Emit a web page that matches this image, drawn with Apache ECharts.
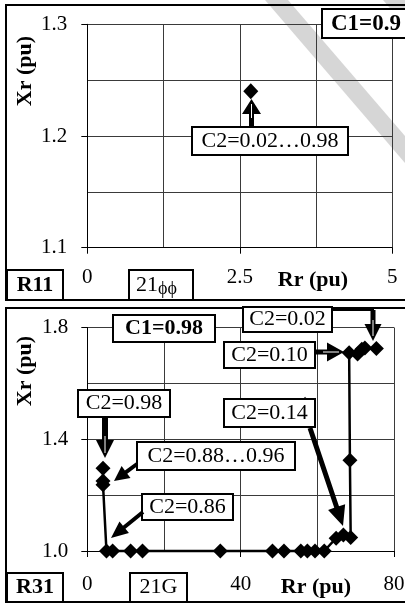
<!DOCTYPE html>
<html>
<head>
<meta charset="utf-8">
<title>R11 / R31 : Rr - Xr</title>
<script src="https://cdn.jsdelivr.net/npm/echarts@6/dist/echarts.min.js"></script>
<style>
  html, body { margin: 0; padding: 0; background: #fff; }
  #chart { width: 405px; height: 603px; }
</style>
</head>
<body>
<div id="chart"></div>
<script>
// R11 (21ϕϕ), C1=0.9 : every C2 = 0.02 ... 0.98 lands on the same point
const rr11 = [2.68]
const xr11 = [1.24]

// R31 (21G), C1=0.98 : path for C2 = 0.02 -> 0.98
const rr31 = [75.4, 72.4, 71.6, 70.5, 68.3, 68.5, 68.7, 66.8, 64.9,
  61.8, 59.4, 57.4, 55.7, 51.3, 48.3, 34.7, 14.4, 11.3, 6.6, 5.0,
  4.1, 4.1, 4.1]
const xr31 = [1.725, 1.727, 1.722, 1.705, 1.71, 1.325, 1.048, 1.057, 1.046,
  1.0, 1.0, 1.0, 1.0, 1.0, 1.0, 1.0, 1.0, 1.0, 1.0, 1.0,
  1.237, 1.251, 1.296]

// a point almost hidden under the C2=0.14 label
const rr31Hidden = [56.8]
const xr31Hidden = [1.525]

// tick labels
const rrTicks11 = [0, 2.5, 5]
const xrTicks11 = [1.1, 1.2, 1.3]
const rrTicks31 = [0, 40, 80]
const xrTicks31 = [1.0, 1.4, 1.8]

const FONT = '"Liberation Serif", "Times New Roman", serif'
const GRID_COLOR = '#3a3a3a'

const chart = echarts.init(document.getElementById('chart'))

const pairs = (xs, ys) => xs.map((v, i) => [v, ys[i]])

// white box with a black frame and a centred label
function box(x1, y1, x2, y2, text, bold) {
  return [
    {
      type: 'rect', z: 100,
      shape: { x: x1, y: y1, width: x2 - x1, height: y2 - y1 },
      style: { fill: '#fff', stroke: '#000', lineWidth: 2 }
    },
    {
      type: 'text', z: 101, x: (x1 + x2) / 2, y: (y1 + y2) / 2,
      style: {
        text: text, fill: '#000', align: 'center', verticalAlign: 'middle',
        font: (bold ? 'bold ' : '') + '22px ' + FONT
      }
    }
  ]
}

// block arrow from (x1,y1) to tip (x2,y2)
function arrow(x1, y1, x2, y2, w, hw, hl, streak) {
  const len = Math.hypot(x2 - x1, y2 - y1)
  const ux = (x2 - x1) / len, uy = (y2 - y1) / len
  const px = -uy, py = ux
  const bx = x2 - ux * hl, by = y2 - uy * hl
  const els = [{
    type: 'polygon', z: 102,
    shape: {
      points: [
        [x1 + px * w / 2, y1 + py * w / 2],
        [bx + px * w / 2, by + py * w / 2],
        [bx + px * hw / 2, by + py * hw / 2],
        [x2, y2],
        [bx - px * hw / 2, by - py * hw / 2],
        [bx - px * w / 2, by - py * w / 2],
        [x1 - px * w / 2, y1 - py * w / 2]
      ]
    },
    style: { fill: '#000' }
  }]
  if (streak) {
    // thin white line inside the head, as in the original drawing
    els.push({
      type: 'line', z: 103,
      shape: { x1: bx - ux * 4, y1: by - uy * 4, x2: x2 - ux * 5, y2: y2 - uy * 5 },
      style: { stroke: '#fff', lineWidth: 1 }
    })
  }
  return els
}

function label(x, y, text, font, align, rotation) {
  return {
    type: 'text', z: 101, x: x, y: y, rotation: rotation || 0,
    style: { text: text, fill: '#000', align: align || 'center', verticalAlign: 'middle', font: font }
  }
}

const graphics = [
  // grey band across the top right corner of the page
  { type: 'polygon', z: -1, shape: { points: [[265, 0], [288, 0], [405, 136], [405, 163]] }, style: { fill: '#d6d6d6' } },
  { type: 'polygon', z: -1, shape: { points: [[383, 0], [405, 0], [405, 26]] }, style: { fill: '#d6d6d6' } },

  // panel frames
  { type: 'rect', z: 99, shape: { x: 6, y: 5, width: 420, height: 295 }, style: { fill: 'transparent', stroke: '#000', lineWidth: 2 } },
  { type: 'rect', z: 99, shape: { x: 6, y: 308, width: 420, height: 294 }, style: { fill: 'transparent', stroke: '#000', lineWidth: 2 } },

  // axis titles
  label(25, 71, 'Xr (pu)', 'bold 22px ' + FONT, 'center', Math.PI / 2),
  label(313, 280, 'Rr (pu)', 'bold 22px ' + FONT),
  label(25, 371, 'Xr (pu)', 'bold 22px ' + FONT, 'center', Math.PI / 2),
  label(316, 587, 'Rr (pu)', 'bold 22px ' + FONT),

  // top panel labels
  ...box(322, 9, 430, 38, '', true),
  label(331, 24, 'C1=0.9', 'bold 23px ' + FONT, 'left'),
  ...box(192, 127, 348, 155, 'C2=0.02…0.98', false),
  ...arrow(251.5, 127, 251.5, 99, 5, 19, 15, true),
  ...box(7, 270, 63, 300, 'R11', true),
  ...box(129, 270, 193, 300, '', false),
  label(136, 285, '21', '22px ' + FONT, 'left'),
  label(158, 289, 'ϕϕ', '18px ' + FONT, 'left'),

  // bottom panel labels
  ...box(113, 315, 215, 342, 'C1=0.98', true),
  { type: 'polyline', z: 102, shape: { points: [[332, 310], [373, 310], [373, 324]] }, style: { stroke: '#000', lineWidth: 2, fill: null } },
  ...box(243, 307, 332, 332, 'C2=0.02', false),
  ...arrow(373, 310, 373, 341, 5, 17, 17, true),
  ...box(224, 342, 315, 368, 'C2=0.10', false),
  ...arrow(315, 352, 344, 352, 5, 19, 17, true),
  ...box(78, 390, 170, 417, 'C2=0.98', false),
  ...arrow(105, 417, 105, 458, 6, 18, 18, true),
  ...box(224, 399, 315, 427, 'C2=0.14', false),
  ...arrow(310, 428, 343, 526, 5, 18, 20, false),
  ...box(137, 442, 295, 470, 'C2=0.88…0.96', false),
  ...arrow(137, 464, 114, 481, 4, 15, 15, false),
  ...box(142, 494, 233, 520, 'C2=0.86', false),
  ...arrow(143, 512, 111, 538, 4, 15, 17, false),
  ...box(7, 573, 63, 602, 'R31', true),
  ...box(130, 573, 187, 602, '21G', false)
]

const tickLabel = { fontSize: 21, fontFamily: FONT, color: '#000' }

const option = {
  backgroundColor: '#fff',
  animation: false,
  grid: [
    { left: 87.3, top: 24.3, width: 305, height: 223.4, outerBoundsMode: 'none' },
    { left: 87.3, top: 327.5, width: 306.7, height: 223.5, outerBoundsMode: 'none' }
  ],
  xAxis: [
    // grid lines
    { gridIndex: 0, type: 'value', min: 0, max: 5, interval: 1.25,
      axisLine: { onZero: false, lineStyle: { color: '#000' } }, axisTick: { show: false }, axisLabel: { show: false },
      splitLine: { lineStyle: { color: GRID_COLOR, width: 1 } } },
    { gridIndex: 1, type: 'value', min: 0, max: 80, interval: 20,
      axisLine: { onZero: false, lineStyle: { color: '#000' } }, axisTick: { show: false }, axisLabel: { show: false },
      splitLine: { lineStyle: { color: GRID_COLOR, width: 1 } } },
    // ticks and labels
    { gridIndex: 0, type: 'value', min: 0, max: 5, position: 'bottom',
      axisLine: { show: false, onZero: false }, splitLine: { show: false },
      axisTick: { customValues: rrTicks11, length: 6, lineStyle: { color: '#000' } },
      axisLabel: Object.assign({ customValues: rrTicks11, margin: 19, formatter: v => String(v) }, tickLabel) },
    { gridIndex: 1, type: 'value', min: 0, max: 80, position: 'bottom',
      axisLine: { show: false, onZero: false }, splitLine: { show: false },
      axisTick: { customValues: rrTicks31, length: 6, lineStyle: { color: '#000' } },
      axisLabel: Object.assign({ customValues: rrTicks31, margin: 23, formatter: v => String(v) }, tickLabel) }
  ],
  yAxis: [
    { gridIndex: 0, type: 'value', min: 1.1, max: 1.3, interval: 0.05, position: 'left',
      axisLine: { show: true, onZero: false, lineStyle: { color: '#000' } }, axisTick: { show: false }, axisLabel: { show: false },
      splitLine: { lineStyle: { color: GRID_COLOR, width: 1 } } },
    { gridIndex: 1, type: 'value', min: 1.0, max: 1.8, interval: 0.2, position: 'left',
      axisLine: { show: true, onZero: false, lineStyle: { color: '#000' } }, axisTick: { show: false }, axisLabel: { show: false },
      splitLine: { lineStyle: { color: GRID_COLOR, width: 1 } } },
    { gridIndex: 0, type: 'value', min: 1.1, max: 1.3, position: 'left',
      axisLine: { show: false, onZero: false }, splitLine: { show: false },
      axisTick: { customValues: xrTicks11, length: 6, lineStyle: { color: '#000' } },
      axisLabel: Object.assign({ customValues: xrTicks11, margin: 20, formatter: v => v.toFixed(1) }, tickLabel) },
    { gridIndex: 1, type: 'value', min: 1.0, max: 1.8, position: 'left',
      axisLine: { show: false, onZero: false }, splitLine: { show: false },
      axisTick: { customValues: xrTicks31, length: 6, lineStyle: { color: '#000' } },
      axisLabel: Object.assign({ customValues: xrTicks31, margin: 19, formatter: v => v.toFixed(1) }, tickLabel) }
  ],
  series: [
    {
      type: 'line', xAxisIndex: 0, yAxisIndex: 0, data: pairs(rr11, xr11),
      symbol: 'diamond', symbolSize: [15, 16], showAllSymbol: true, clip: false,
      itemStyle: { color: '#000' }, lineStyle: { color: '#000', width: 2 }
    },
    {
      type: 'scatter', xAxisIndex: 1, yAxisIndex: 1, data: pairs(rr31Hidden, xr31Hidden),
      symbol: 'diamond', symbolSize: 15, itemStyle: { color: '#000' }
    },
    {
      type: 'line', xAxisIndex: 1, yAxisIndex: 1, data: pairs(rr31, xr31),
      symbol: 'diamond', symbolSize: 15, showAllSymbol: true, clip: false,
      itemStyle: { color: '#000' }, lineStyle: { color: '#000', width: 2.5 }
    }
  ],
  graphic: graphics
}

chart.setOption(option)
</script>
</body>
</html>
